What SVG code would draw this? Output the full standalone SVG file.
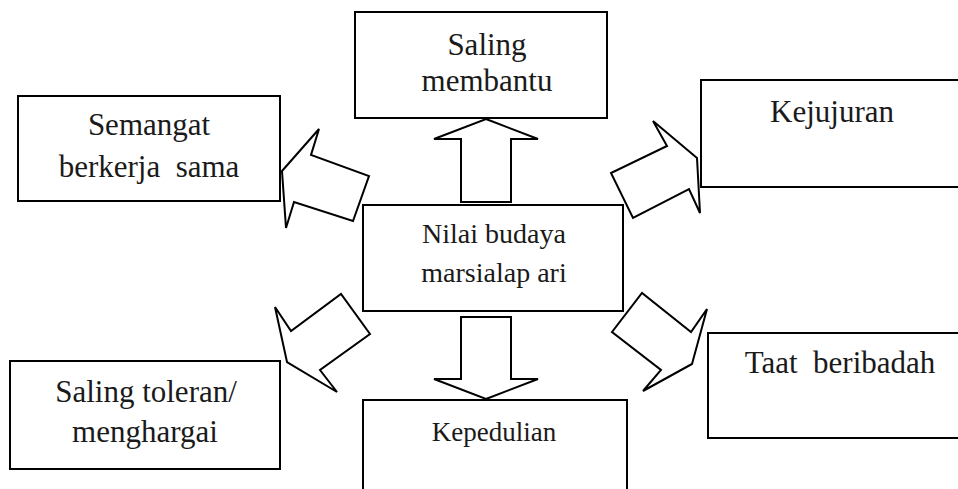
<svg xmlns="http://www.w3.org/2000/svg" width="958" height="489" viewBox="0 0 958 489">
<style>
.box{fill:#fff;stroke:#000;stroke-width:2}
.arr{fill:#fff;stroke:#000;stroke-width:2;stroke-linejoin:miter}
text{font-family:"Liberation Serif","Times New Roman",serif;fill:#1a1a1a;text-anchor:middle;white-space:pre}
.t{font-size:31px}
.s{font-size:28px}
</style>
<rect width="958" height="489" fill="#fff"/>
<g id="connectors">
<polygon class="arr" points="486,119 538,139 511,139 511,202 461,202 461,139 434,139"/>
<polygon class="arr" points="486,399 538,379 511,379 511,317 461,317 461,379 434,379"/>
<polygon class="arr" points="282,171 319,129 311,155 369,176 353,221 294,202 286,228"/>
<polygon class="arr" points="697,158 653,121 667,146 611,173 633,218 689,189 700,213"/>
<polygon class="arr" points="287,362 275,307 291,331 341,294 370,334 320,370 337,392"/>
<polygon class="arr" points="692,364 707,309 691,332 642,293 612,332 661,370 643,391"/>
</g>
<g id="saling-membantu">
<rect class="box" x="355" y="12" width="252" height="106"/>
<text class="t" x="487" y="55">Saling</text>
<text class="t" x="487" y="91">membantu</text>
</g>
<g id="semangat">
<rect class="box" x="18" y="96" width="262" height="105"/>
<text class="t" x="149" y="135">Semangat</text>
<text class="t" x="149" y="177">berkerja  sama</text>
</g>
<g id="kejujuran">
<rect class="box" x="701" y="80" width="270" height="107"/>
<text class="t" x="832" y="122">Kejujuran</text>
</g>
<g id="nilai-budaya">
<rect class="box" x="363" y="205" width="260" height="106"/>
<text class="s" x="494" y="243">Nilai budaya</text>
<text class="s" x="494" y="282">marsialap ari</text>
</g>
<g id="saling-toleran">
<rect class="box" x="10" y="361" width="270" height="108"/>
<text class="t" x="146" y="402">Saling toleran/</text>
<text class="t" x="145" y="442">menghargai</text>
</g>
<g id="taat-beribadah">
<rect class="box" x="708" y="333" width="270" height="105"/>
<text class="t" x="840" y="373">Taat  beribadah</text>
</g>
<g id="kepedulian">
<rect class="box" x="363" y="400" width="264" height="110"/>
<text x="494" y="441" style="font-size:27px">Kepedulian</text>
</g>
</svg>
